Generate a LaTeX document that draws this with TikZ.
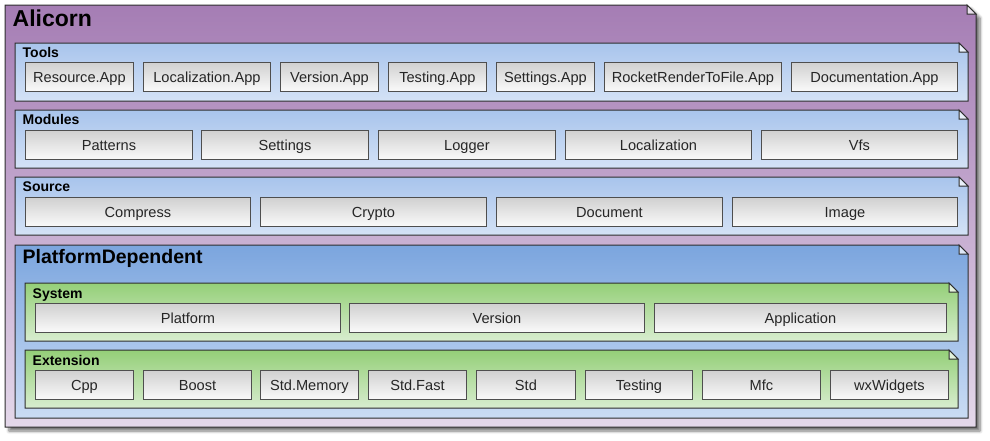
\documentclass[tikz,border=0pt]{standalone}
\usepackage{fontspec}
\setmainfont{Liberation Sans}
\usetikzlibrary{shadows.blur}
\definecolor{purT}{HTML}{A57DB4}
\definecolor{purB}{HTML}{E4D8EA}
\definecolor{bluT}{HTML}{A8C4EC}
\definecolor{bluB}{HTML}{D4E2F6}
\definecolor{pdT}{HTML}{7BA5DE}
\definecolor{pdB}{HTML}{CADCF4}
\definecolor{grnT}{HTML}{94CF78}
\definecolor{grnB}{HTML}{D8EDCF}
\definecolor{itmT}{HTML}{D0D0D0}
\definecolor{itmB}{HTML}{FAFAFA}
\definecolor{itmL}{HTML}{4E4E4E}
\definecolor{pkgL}{HTML}{2E2E2E}
\newcommand\pkgshape[7]{%
  \shadedraw[top color=#6, bottom color=#7, pkgline, #1]
    (#2,#3) -- (#4-9,#3) -- (#4,#3+9) -- (#4,#5) -- (#2,#5) -- cycle;
  \filldraw[fill=#6!25!white, pkgline]
    (#4-9,#3) -- (#4-9,#3+9) -- (#4,#3+9) -- cycle;
}
\begin{document}
\begin{tikzpicture}[x=1pt,y=-1pt,
  pkgline/.style={draw=pkgL, line width=1pt, line join=miter},
  item/.style={draw=itmL, line width=0.9pt, top color=itmT, bottom color=itmB,
    minimum height=29pt, inner sep=0pt, anchor=north west,
    text height=10.5pt, text depth=0pt, text=black!85,
    font=\fontsize{14.6}{16}\selectfont},
  plbl/.style={anchor=base west, inner sep=0pt, font=\bfseries\fontsize{14}{16}\selectfont},
]
\useasboundingbox (0,0) rectangle (990,440);

% outer package
\pkgshape{blur shadow={shadow xshift=4pt, shadow yshift=-4pt, shadow blur steps=6, shadow blur radius=3pt, shadow opacity=55}}{5}{5}{976}{427}{purT}{purB}
\node[anchor=base west, inner sep=0pt, font=\bfseries\fontsize{23}{26}\selectfont] (alicorn) at (12.5,26.5) {Alicorn};

% Tools
\pkgshape{}{15}{43}{968}{101}{bluT}{bluB}
\node[plbl] (tools) at (22.5,57.5) {Tools};
\node[item, minimum width=108pt] (t1) at (25,62) {Resource.App};
\node[item, minimum width=127pt] (t2) at (143,62) {Localization.App};
\node[item, minimum width=98pt] (t3) at (280,62) {Version.App};
\node[item, minimum width=98pt] (t4) at (388,62) {Testing.App};
\node[item, minimum width=98pt] (t5) at (496,62) {Settings.App};
\node[item, minimum width=177pt] (t6) at (604,62) {RocketRenderToFile.App};
\node[item, minimum width=166pt] (t7) at (791,62) {Documentation.App};

% Modules
\pkgshape{}{15}{110}{968}{168}{bluT}{bluB}
\node[plbl] (modules) at (22.5,124.5) {Modules};
\node[item, minimum width=167pt] (m1) at (25,130) {Patterns};
\node[item, minimum width=167pt] (m2) at (201,130) {Settings};
\node[item, minimum width=177pt] (m3) at (378,130) {Logger};
\node[item, minimum width=186pt] (m4) at (565,130) {Localization};
\node[item, minimum width=196pt] (m5) at (761,130) {Vfs};

% Source
\pkgshape{}{15}{177}{968}{235}{bluT}{bluB}
\node[plbl] (source) at (22.5,191.5) {Source};
\node[item, minimum width=225pt] (s1) at (25,197) {Compress};
\node[item, minimum width=226pt] (s2) at (260,197) {Crypto};
\node[item, minimum width=226pt] (s3) at (496,197) {Document};
\node[item, minimum width=225pt] (s4) at (732,197) {Image};

% PlatformDependent
\pkgshape{}{15}{245}{968}{418}{pdT}{pdB}
\node[anchor=base west, inner sep=0pt, font=\bfseries\fontsize{19.5}{22}\selectfont] (pd) at (22.5,263.5) {PlatformDependent};

% System
\pkgshape{}{25}{283}{958}{341}{grnT}{grnB}
\node[plbl] (system) at (32.5,298) {System};
\node[item, minimum width=305pt] (y1) at (35,303) {Platform};
\node[item, minimum width=295pt] (y2) at (349,303) {Version};
\node[item, minimum width=292pt] (y3) at (654,303) {Application};

% Extension
\pkgshape{}{25}{350}{958}{408}{grnT}{grnB}
\node[plbl] (extension) at (32.5,365.5) {Extension};
\node[item, minimum width=98pt] (e1) at (35,370) {Cpp};
\node[item, minimum width=108pt] (e2) at (143,370) {Boost};
\node[item, minimum width=98pt] (e3) at (260,370) {Std.Memory};
\node[item, minimum width=98pt] (e4) at (368,370) {Std.Fast};
\node[item, minimum width=99pt] (e5) at (476,370) {Std};
\node[item, minimum width=107pt] (e6) at (585,370) {Testing};
\node[item, minimum width=118pt] (e7) at (702,370) {Mfc};
\node[item, minimum width=118pt] (e8) at (830,370) {wxWidgets};
\end{tikzpicture}
\end{document}
